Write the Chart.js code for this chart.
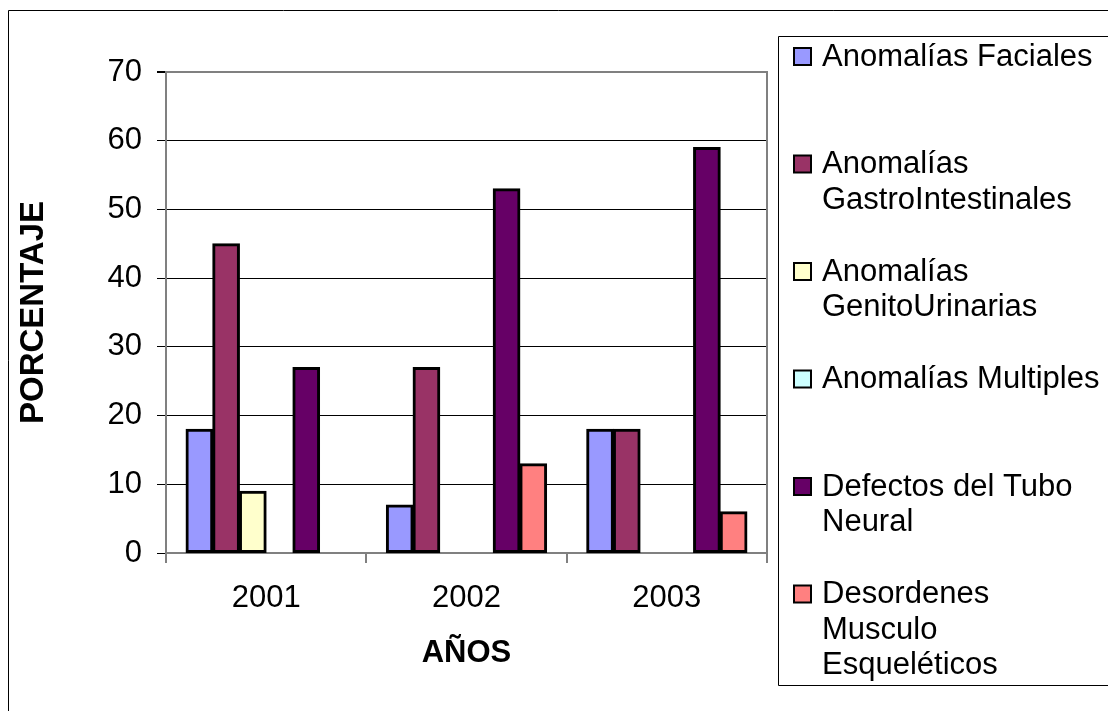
<!DOCTYPE html>
<html>
<head>
<meta charset="utf-8">
<script src="https://cdn.jsdelivr.net/npm/chart.js@4/dist/chart.umd.min.js"></script>
<style>
  html, body { margin: 0; padding: 0; background: #fff; }
  canvas { display: block; }
</style>
</head>
<body>
<canvas id="barChart" width="1108" height="711"></canvas>
<script>
// datos
const years = ['2001', '2002', '2003'];
const faciales = [18, 7, 18];
const gastro = [45, 27, 18];
const genito = [9, 0, 0];
const multiples = [0, 0, 0];
const tuboNeural = [27, 53, 59];
const musculo = [0, 13, 6];
const yTicks = [0, 10, 20, 30, 40, 50, 60, 70];

// textos de la leyenda (con saltos de linea como en el original)
const legendLines = [
    ['Anomalías Faciales'],
    ['Anomalías', 'GastroIntestinales'],
    ['Anomalías', 'GenitoUrinarias'],
    ['Anomalías Multiples'],
    ['Defectos del Tubo', 'Neural'],
    ['Desordenes', 'Musculo', 'Esqueléticos']
];
const colors = ['#9999FF', '#993366', '#FFFFCC', '#CCFFFF', '#660066', '#FF8080'];

const FONT = 'Arial, "Liberation Sans", sans-serif';

// borde exterior, borde del area de trazado y leyenda
const frames = {
    id: 'frames',
    beforeDatasetsDraw(chart) {
        const { ctx, chartArea: a } = chart;
        ctx.save();
        ctx.strokeStyle = '#808080';
        ctx.lineWidth = 2;
        ctx.strokeRect(a.left, a.top, a.right - a.left, a.bottom - a.top);
        ctx.restore();
    },
    afterDraw(chart) {
        const ctx = chart.ctx;
        ctx.save();
        // marco exterior
        ctx.strokeStyle = '#000';
        ctx.lineWidth = 1;
        ctx.beginPath();
        ctx.moveTo(8.5, 711);
        ctx.lineTo(8.5, 10.5);
        ctx.lineTo(1108, 10.5);
        ctx.stroke();
        // caja de la leyenda
        ctx.beginPath();
        ctx.moveTo(1108, 36.5);
        ctx.lineTo(778.5, 36.5);
        ctx.lineTo(778.5, 685.5);
        ctx.lineTo(1108, 685.5);
        ctx.stroke();
        // entradas
        ctx.font = '31px ' + FONT;
        ctx.textBaseline = 'middle';
        ctx.textAlign = 'left';
        chart.data.datasets.forEach((ds, i) => {
            const y = 57 + i * 107.5;
            ctx.fillStyle = ds.backgroundColor;
            ctx.fillRect(794, y - 9, 17, 17);
            ctx.strokeStyle = '#000';
            ctx.lineWidth = 2;
            ctx.strokeRect(794, y - 9, 17, 17);
            ctx.fillStyle = '#000';
            legendLines[i].forEach((line, j) => {
                ctx.fillText(line, 822, y + j * 35.5);
            });
        });
        ctx.restore();
    }
};

const seriesData = [faciales, gastro, genito, multiples, tuboNeural, musculo];

const ctx = document.getElementById('barChart').getContext('2d');
new Chart(ctx, {
    type: 'bar',
    data: {
        labels: years,
        datasets: seriesData.map((d, i) => ({
            label: legendLines[i].join(' '),
            data: d,
            backgroundColor: colors[i],
            borderColor: '#000',
            borderWidth: 3,
            borderSkipped: false,
            inflateAmount: 0.5,
            barPercentage: 1,
            categoryPercentage: 0.8
        }))
    },
    options: {
        responsive: false,
        animation: false,
        layout: {
            padding: { left: 0, top: 72, right: 341, bottom: 0 }
        },
        plugins: {
            legend: { display: false },
            tooltip: { enabled: false }
        },
        scales: {
            y: {
                min: 0,
                max: 70,
                afterFit: (scale) => { scale.width = 166; },
                afterBuildTicks: (scale) => {
                    scale.ticks = yTicks.map(v => ({ value: v }));
                },
                ticks: {
                    color: '#000',
                    padding: 15,
                    font: { size: 31, family: FONT }
                },
                grid: {
                    color: (c) => (c.tick && (c.tick.value === 70 || c.tick.value === 0)) ? '#808080' : '#000',
                    tickColor: '#000',
                    lineWidth: (c) => (c.tick && c.tick.value === 70) ? 2 : 1,
                    tickLength: 9
                },
                border: { display: true, color: '#808080', width: 2 },
                title: {
                    display: true,
                    text: 'PORCENTAJE',
                    color: '#000',
                    font: { size: 33, weight: 'bold', family: FONT },
                    padding: { top: 14, bottom: 0 }
                }
            },
            x: {
                afterFit: (scale) => { scale.height = 158; },
                ticks: {
                    color: '#000',
                    padding: 17,
                    font: { size: 31, family: FONT }
                },
                grid: {
                    offset: true,
                    drawOnChartArea: false,
                    color: '#808080',
                    tickLength: 10,
                    lineWidth: 2
                },
                border: { display: true, color: '#808080', width: 2 },
                title: {
                    display: true,
                    text: 'AÑOS',
                    color: '#000',
                    font: { size: 31, weight: 'bold', family: FONT },
                    padding: { top: 0, bottom: 39 }
                }
            }
        }
    },
    plugins: [frames]
});
</script>
</body>
</html>
